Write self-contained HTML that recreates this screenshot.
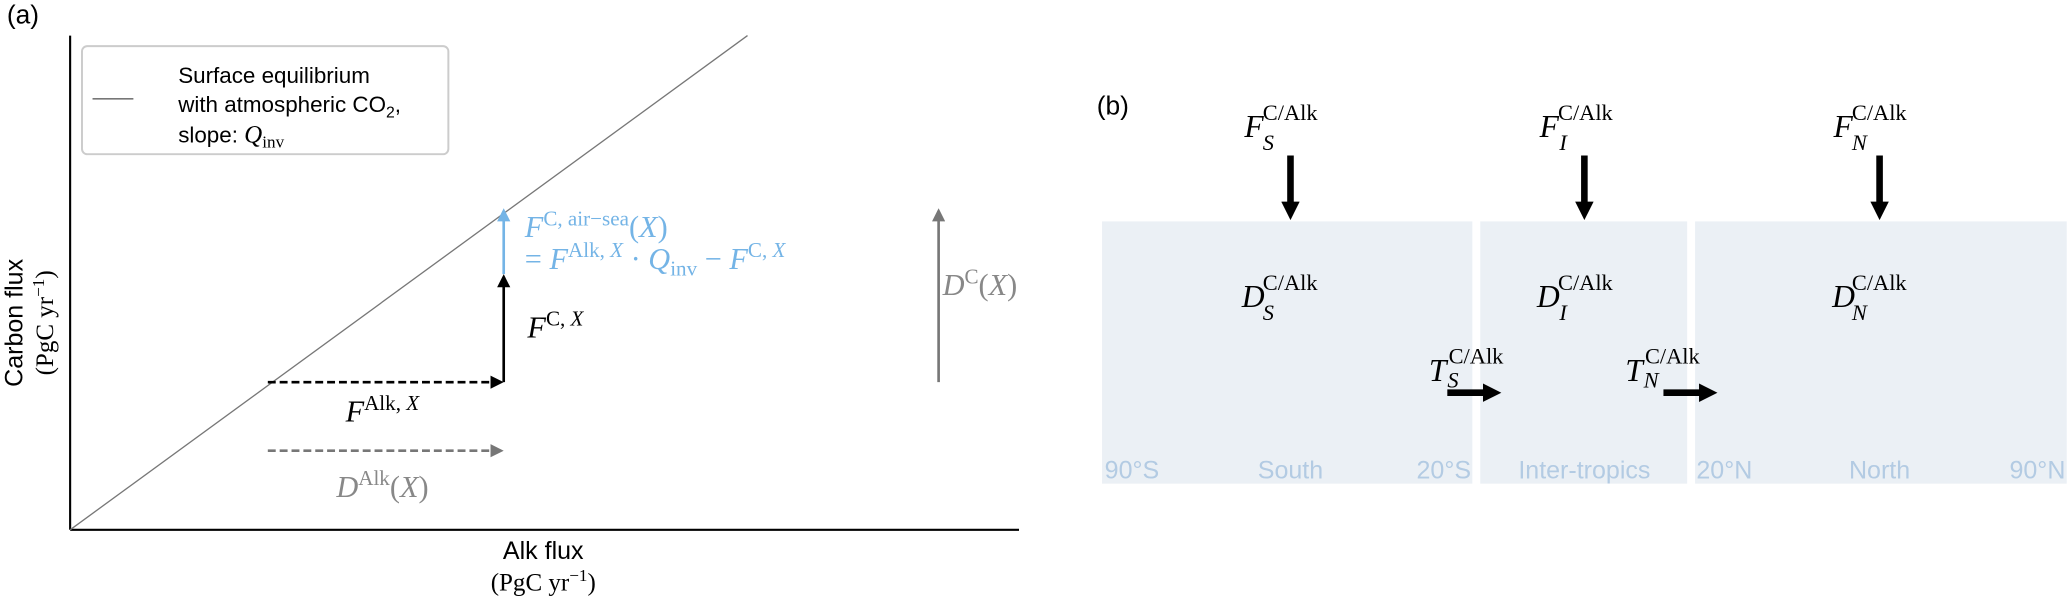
<!DOCTYPE html>
<html><head><meta charset="utf-8"><style>
html,body{margin:0;padding:0;background:#fff;}
svg{display:block;}
.s{font-family:"Liberation Sans",sans-serif;}
.m{font-family:"Liberation Serif",serif;}
.i{font-style:italic;}
</style></head><body>
<svg width="2067" height="597" viewBox="0 0 1568 453" xmlns="http://www.w3.org/2000/svg">
<defs>
<marker id="hb" markerWidth="10" markerHeight="10" refX="8" refY="5" orient="auto" markerUnits="userSpaceOnUse"><path d="M0,0 L10,5 L0,10 z" fill="#000"/></marker>
<marker id="hg" markerWidth="10" markerHeight="10" refX="8" refY="5" orient="auto" markerUnits="userSpaceOnUse"><path d="M0,0 L10,5 L0,10 z" fill="#777"/></marker>
<marker id="hl" markerWidth="10" markerHeight="10" refX="8" refY="5" orient="auto" markerUnits="userSpaceOnUse"><path d="M0,0 L10,5 L0,10 z" fill="#74b4e6"/></marker>
<marker id="hB" markerWidth="14" markerHeight="14" refX="2" refY="7" orient="auto" markerUnits="userSpaceOnUse"><path d="M0,0 L14,7 L0,14 z" fill="#000"/></marker>
</defs>
<!-- panel a -->
<text x="5" y="18" class="s" font-size="20">(a)</text>
<line x1="53" y1="27" x2="53" y2="402" stroke="#000" stroke-width="1.6"/>
<line x1="53" y1="402" x2="773" y2="402" stroke="#000" stroke-width="1.6"/>
<line x1="53" y1="402" x2="567" y2="27" stroke="#777" stroke-width="1"/>
<rect x="62" y="35" width="278" height="82" rx="4" fill="#fff" fill-opacity="0.9" stroke="#ccc" stroke-width="1.5"/>
<line x1="70" y1="75" x2="101" y2="75" stroke="#777" stroke-width="1.2"/>
<g class="s" font-size="17">
<text x="135" y="63">Surface equilibrium</text>
<text x="135" y="85">with atmospheric CO<tspan font-size="12" dy="4">2</tspan><tspan dy="-4">,</tspan></text>
<text x="135" y="108">slope: <tspan class="m i" font-size="19">Q</tspan><tspan class="m" font-size="13" dy="4">inv</tspan></text>
</g>
<line x1="203" y1="290" x2="380" y2="290" stroke="#000" stroke-width="2" stroke-dasharray="6,3" marker-end="url(#hb)"/>
<line x1="382" y1="290" x2="382" y2="210" stroke="#000" stroke-width="2" marker-end="url(#hb)"/>
<line x1="382" y1="208" x2="382" y2="160" stroke="#74b4e6" stroke-width="2" marker-end="url(#hl)"/>
<line x1="203" y1="342" x2="380" y2="342" stroke="#777" stroke-width="2" stroke-dasharray="6,3" marker-end="url(#hg)"/>
<line x1="712" y1="290" x2="712" y2="160" stroke="#777" stroke-width="2" marker-end="url(#hg)"/>
<g class="m" font-size="23">
<text x="262" y="320"><tspan class="i">F</tspan><tspan font-size="16" dy="-9">Alk, <tspan class="i">X</tspan></tspan></text>
<text x="400" y="256"><tspan class="i">F</tspan><tspan font-size="16" dy="-9">C, <tspan class="i">X</tspan></tspan></text>
<text x="398" y="180" fill="#74b4e6"><tspan class="i">F</tspan><tspan font-size="16" dy="-9">C, air−sea</tspan><tspan dy="9">(<tspan class="i">X</tspan>)</tspan></text>
<text x="398" y="204" fill="#74b4e6">= <tspan class="i">F</tspan><tspan font-size="16" dy="-9">Alk, <tspan class="i">X</tspan></tspan><tspan dy="9"> · <tspan class="i">Q</tspan></tspan><tspan font-size="16" dy="5">inv</tspan><tspan dy="-5"> − <tspan class="i">F</tspan></tspan><tspan font-size="16" dy="-9">C, <tspan class="i">X</tspan></tspan></text>
<text x="255" y="377" fill="#888"><tspan class="i">D</tspan><tspan font-size="16" dy="-9">Alk</tspan><tspan dy="9">(<tspan class="i">X</tspan>)</tspan></text>
<text x="715" y="224" fill="#888"><tspan class="i">D</tspan><tspan font-size="16" dy="-9">C</tspan><tspan dy="9">(<tspan class="i">X</tspan>)</tspan></text>
</g>
<g font-size="19">
<text transform="translate(17,245) rotate(-90)" text-anchor="middle" class="s">Carbon flux</text>
<text transform="translate(40,245) rotate(-90)" text-anchor="middle" class="m">(PgC yr<tspan font-size="13" dy="-7">−1</tspan><tspan dy="7">)</tspan></text>
<text x="412" y="424" text-anchor="middle" class="s">Alk flux</text>
<text x="412" y="448" text-anchor="middle" class="m">(PgC yr<tspan font-size="13" dy="-7">−1</tspan><tspan dy="7">)</tspan></text>
</g>
<!-- panel b -->
<text x="832" y="87" class="s" font-size="20">(b)</text>
<rect x="836" y="168" width="281" height="199" fill="#ebf0f5"/>
<rect x="1123" y="168" width="157" height="199" fill="#ebf0f5"/>
<rect x="1286" y="168" width="282" height="199" fill="#ebf0f5"/>
<g stroke="#000" stroke-width="5">
<line x1="979" y1="118" x2="979" y2="155" marker-end="url(#hB)"/>
<line x1="1202" y1="118" x2="1202" y2="155" marker-end="url(#hB)"/>
<line x1="1426" y1="118" x2="1426" y2="155" marker-end="url(#hB)"/>
<line x1="1098" y1="298" x2="1127" y2="298" marker-end="url(#hB)"/>
<line x1="1262" y1="298" x2="1291" y2="298" marker-end="url(#hB)"/>
</g>
<g class="m" font-size="24">
<text x="944" y="104" class="i">F</text><text x="958" y="91" font-size="17">C/Alk</text><text x="958" y="114" font-size="17" class="i">S</text>
<text x="1168" y="104" class="i">F</text><text x="1182" y="91" font-size="17">C/Alk</text><text x="1183" y="114" font-size="17" class="i">I</text>
<text x="1391" y="104" class="i">F</text><text x="1405" y="91" font-size="17">C/Alk</text><text x="1405" y="114" font-size="17" class="i">N</text>
<text x="942" y="233" class="i">D</text><text x="958" y="220" font-size="17">C/Alk</text><text x="958" y="243" font-size="17" class="i">S</text>
<text x="1166" y="233" class="i">D</text><text x="1182" y="220" font-size="17">C/Alk</text><text x="1183" y="243" font-size="17" class="i">I</text>
<text x="1390" y="233" class="i">D</text><text x="1405" y="220" font-size="17">C/Alk</text><text x="1405" y="243" font-size="17" class="i">N</text>
<text x="1084" y="289" class="i">T</text><text x="1099" y="276" font-size="17">C/Alk</text><text x="1098" y="294" font-size="17" class="i">S</text>
<text x="1233" y="289" class="i">T</text><text x="1248" y="276" font-size="17">C/Alk</text><text x="1247" y="294" font-size="17" class="i">N</text>
</g>
<g class="s" font-size="19" fill="#b3cbe3">
<text x="838" y="363">90°S</text>
<text x="979" y="363" text-anchor="middle">South</text>
<text x="1116" y="363" text-anchor="end">20°S</text>
<text x="1202" y="363" text-anchor="middle">Inter-tropics</text>
<text x="1287" y="363">20°N</text>
<text x="1426" y="363" text-anchor="middle">North</text>
<text x="1567" y="363" text-anchor="end">90°N</text>
</g>
</svg>
</body></html>
